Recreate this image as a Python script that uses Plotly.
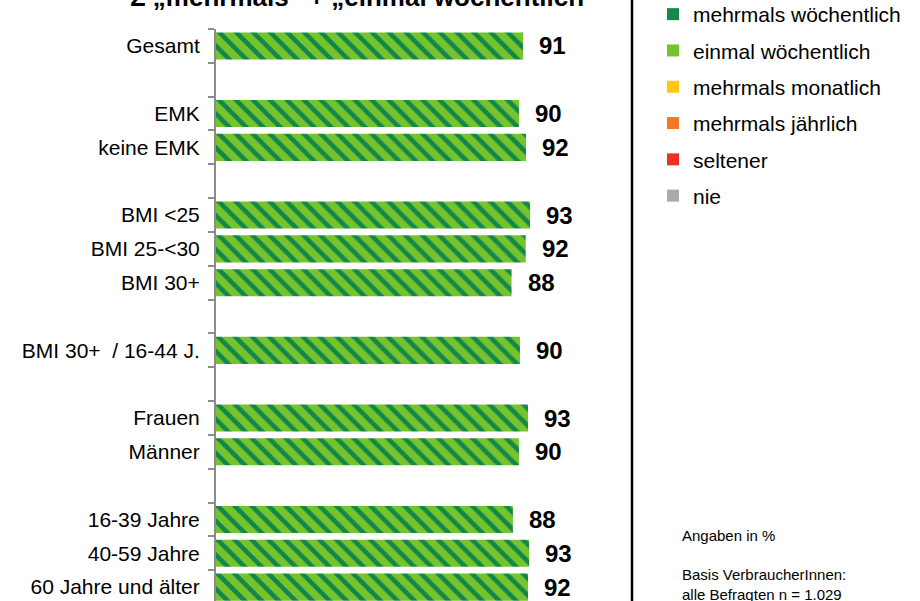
import plotly.graph_objects as go

# ---- data ----
categories = ["Gesamt", " ", "EMK", "keine EMK", "  ", "BMI <25", "BMI 25-<30", "BMI 30+",
              "   ", "BMI 30+  / 16-44 J.", "    ", "Frauen", "Männer", "     ",
              "16-39 Jahre", "40-59 Jahre", "60 Jahre und älter"]
values = [91.1, None, 89.9, 92.0, None, 93.2, 91.9, 87.7, None, 90.2, None, 92.6, 89.9, None,
          88.1, 92.9, 92.6]
value_labels = ["91", "", "90", "92", "", "93", "92", "88", "", "90", "", "93", "90", "",
                "88", "93", "92"]
legend_names = ["mehrmals wöchentlich", "einmal wöchentlich", "mehrmals monatlich",
                "mehrmals jährlich", "seltener", "nie"]
legend_colors = ["#17874c", "#76c42d", "#ffc913", "#f47920", "#ee3124", "#aaaaaa"]
title_text = "Σ „mehrmals“ + „einmal wöchentlich“"
note_text = "Angaben in %<br><br>Basis VerbraucherInnen:<br>alle Befragten n = 1.029"

W, H = 920, 601
L, R_PX = 216, 553          # plot x-range in pixels
T, B_PX = 29, 601           # plot y-range in pixels
pw, ph = R_PX - L, B_PX - T
FONT = "Arial, Liberation Sans, sans-serif"

def px_x(p):
    return (p - L) / pw

def px_y(p):
    return 1 - (p - T) / ph

fig = go.Figure()

fig.add_trace(go.Bar(
    y=categories, x=values, orientation="h",
    marker=dict(color="#76c42d",
                pattern=dict(shape="\\", fgcolor="#13874a", bgcolor="#76c42d",
                             size=12, solidity=0.38, fillmode="replace"),
                line=dict(width=0)),
    showlegend=False, hoverinfo="skip",
))

for i, (n, c) in enumerate(zip(legend_names, legend_colors)):
    fig.add_trace(go.Scatter(
        x=[None], y=[None], mode="markers", name=n, legendgroup=n,
        marker=dict(symbol="square", size=11, color=c),
    ))

for cat, v, lab in zip(categories, values, value_labels):
    if v is None:
        continue
    fig.add_annotation(x=v, y=cat, text=f"<b>{lab}</b>", showarrow=False,
                       xanchor="left", xshift=14,
                       font=dict(size=24, color="#000000", family=FONT))

fig.add_annotation(xref="paper", yref="paper", x=px_x(363), y=px_y(14),
                   text=f"<b>{title_text}</b>", showarrow=False, xanchor="center",
                   yanchor="bottom",
                   font=dict(size=26, color="#000000", family=FONT))

fig.add_annotation(xref="paper", yref="paper", x=px_x(680), y=px_y(605),
                   text=note_text, showarrow=False, xanchor="left", yanchor="bottom",
                   align="left",
                   font=dict(size=15, color="#000000", family=FONT))

fig.add_shape(type="line", xref="paper", yref="paper",
              x0=px_x(632), x1=px_x(632), y0=px_y(601), y1=px_y(0),
              line=dict(color="#000000", width=2.5))

fig.update_layout(
    width=W, height=H,
    margin=dict(l=L, r=W - R_PX, t=T, b=H - B_PX, pad=0, autoexpand=False),
    paper_bgcolor="white", plot_bgcolor="white",
    bargap=0.2,
    font=dict(family=FONT, size=21, color="#000000"),
    xaxis=dict(range=[0, 100], visible=False),
    yaxis=dict(type="category", categoryorder="array", categoryarray=categories,
               range=[16.41, -0.5], showline=True, linecolor="#8c8c8c", linewidth=2,
               ticks="outside", tickson="boundaries", ticklen=6, tickcolor="#8c8c8c",
               tickwidth=2, showgrid=False, zeroline=False, ticklabelstandoff=10,
               tickfont=dict(size=21, color="#000000")),
    legend=dict(x=px_x(653), y=px_y(-6), xanchor="left", yanchor="top",
                font=dict(size=21, color="#000000"), traceorder="grouped",
                tracegroupgap=6, itemsizing="constant", bgcolor="rgba(0,0,0,0)"),
)

fig.write_html("out.html")
